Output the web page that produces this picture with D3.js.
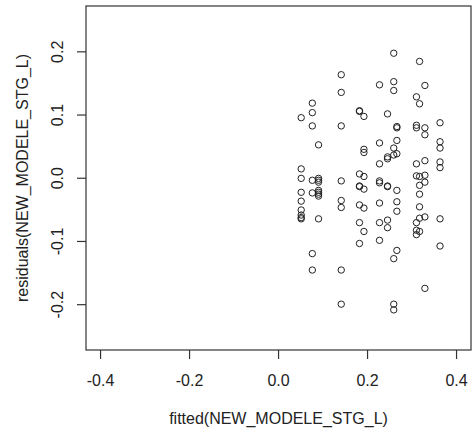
<!DOCTYPE html>
<html>
<head>
<meta charset="utf-8">
<script src="https://cdn.jsdelivr.net/npm/d3@7"></script>
<style>
  html, body { margin: 0; padding: 0; background: #fff; }
  svg { display: block; }
  text { font-family: "Liberation Sans", Arial, sans-serif; fill: #222; }
</style>
</head>
<body>
<svg id="chart" width="472" height="434"></svg>
<script>
// Fitted value levels (x) and the residuals observed at each level (y)
const fittedLevels = [0.052, 0.077, 0.091, 0.142, 0.183, 0.193, 0.228, 0.246, 0.260, 0.267, 0.311, 0.318, 0.330, 0.364];
const residualsByLevel = [
  [0.095, 0.014, -0.001, -0.023, -0.037, -0.051, -0.059, -0.063, -0.065],
  [0.118, 0.103, 0.082, -0.004, -0.024, -0.120, -0.146],
  [0.052, -0.001, -0.004, -0.007, -0.020, -0.023, -0.026, -0.029, -0.065],
  [0.163, 0.135, 0.082, -0.005, -0.036, -0.047, -0.146, -0.200],
  [0.106, 0.105, 0.006, -0.013, -0.014, -0.043, -0.071, -0.104],
  [0.097, 0.045, 0.040, 0.002, -0.018, -0.048, -0.085],
  [0.147, 0.055, 0.022, -0.005, -0.008, -0.040, -0.071, -0.099],
  [0.101, 0.033, 0.030, -0.013, -0.014, -0.067, -0.079],
  [0.197, 0.152, 0.138, 0.047, 0.036, -0.128, -0.200, -0.209],
  [0.081, 0.079, 0.059, 0.038, -0.020, -0.038, -0.053, -0.115],
  [0.128, 0.083, 0.079, 0.022, 0.003, -0.071, -0.083, -0.090],
  [0.184, 0.117, 0.002, -0.012, -0.026, -0.046, -0.064, -0.085],
  [0.146, 0.079, 0.068, 0.027, 0.004, -0.007, -0.062, -0.175],
  [0.087, 0.057, 0.047, 0.025, 0.016, -0.065, -0.108]
];
const xTicks = [-0.4, -0.2, 0.0, 0.2, 0.4];
const yTicks = [-0.2, -0.1, 0.0, 0.1, 0.2];
const xTitle = "fitted(NEW_MODELE_STG_L)";
const yTitle = "residuals(NEW_MODELE_STG_L)";

const points = [];
fittedLevels.forEach((fx, i) => residualsByLevel[i].forEach(r => points.push({ x: fx, y: r })));

const svg = d3.select("#chart");
const mLeft = 86, mRight = 471, mTop = 6, mBottom = 350;

const x = d3.scaleLinear().domain([-0.4316, 0.4336]).range([mLeft, mRight]);
const y = d3.scaleLinear().domain([-0.2725, 0.2717]).range([mBottom, mTop]);

const fmt = d3.formatLocale({ decimal: ".", thousands: ",", grouping: [3], currency: ["", ""], minus: "-" }).format(".1f");
const axisColor = "#333";
const fs = 16;

// X axis
const gx = svg.append("g").attr("transform", `translate(0,${mBottom})`)
  .call(d3.axisBottom(x).tickValues(xTicks).tickFormat(fmt).tickSize(9));
gx.select(".domain").remove();
gx.selectAll(".tick line").attr("stroke", axisColor).attr("stroke-width", 1.2);
gx.selectAll(".tick text").attr("font-size", fs).attr("font-family", "Liberation Sans, Arial, sans-serif").attr("fill", "#222")
  .attr("y", 30).attr("dy", null).attr("dominant-baseline", "central");

// Y axis (labels parallel to axis)
const gy = svg.append("g").attr("transform", `translate(${mLeft},0)`)
  .call(d3.axisLeft(y).tickValues(yTicks).tickFormat(fmt).tickSize(9));
gy.select(".domain").remove();
gy.selectAll(".tick line").attr("stroke", axisColor).attr("stroke-width", 1.2);
gy.selectAll(".tick text")
  .attr("font-size", fs).attr("font-family", "Liberation Sans, Arial, sans-serif").attr("fill", "#222")
  .attr("x", null).attr("dy", null)
  .attr("text-anchor", "middle")
  .attr("transform", "translate(-29,0) rotate(-90)")
  .attr("dominant-baseline", "central");

// Plot frame
svg.append("rect")
  .attr("x", mLeft).attr("y", mTop)
  .attr("width", mRight - mLeft).attr("height", mBottom - mTop)
  .attr("fill", "none").attr("stroke", axisColor).attr("stroke-width", 1.2);

// Points
svg.append("g").selectAll("circle").data(points).join("circle")
  .attr("cx", d => x(d.x)).attr("cy", d => y(d.y)).attr("r", 3.2)
  .attr("fill", "none").attr("stroke", "#222").attr("stroke-width", 1);

// Titles
svg.append("text").attr("x", (mLeft + mRight) / 2).attr("y", 418)
  .attr("text-anchor", "middle").attr("dominant-baseline", "central")
  .attr("font-size", fs).text(xTitle);
svg.append("text")
  .attr("transform", `translate(22,${(mTop + mBottom) / 2}) rotate(-90)`)
  .attr("text-anchor", "middle").attr("dominant-baseline", "central")
  .attr("font-size", fs).text(yTitle);
</script>
</body>
</html>
